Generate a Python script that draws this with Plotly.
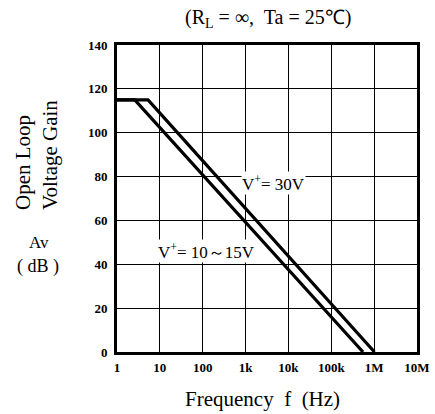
import plotly.graph_objects as go

# Data
freq_30v = [1, 5.3, 1.02e6]
gain_30v = [115, 115, 0]
freq_10_15v = [1, 2.6, 5.5e5]
gain_10_15v = [115, 115, 0]

x_tickvals = [1, 10, 100, 1e3, 1e4, 1e5, 1e6, 1e7]
x_ticktext = ["1", "10", "100", "1k", "10k", "100k", "1M", "10M"]
y_tickvals = [0, 20, 40, 60, 80, 100, 120, 140]

serif = "Liberation Serif, Times New Roman, serif"
W, H = 435, 414
L, R, T, B = 117, 18, 45, 62
PW, PH = W - L - R, H - T - B

fig = go.Figure()
fig.add_trace(go.Scatter(x=freq_30v, y=gain_30v, mode="lines",
                         line=dict(color="black", width=3.2), showlegend=False))
fig.add_trace(go.Scatter(x=freq_10_15v, y=gain_10_15v, mode="lines",
                         line=dict(color="black", width=3.2), showlegend=False))

fig.update_layout(
    width=W, height=H,
    margin=dict(l=L, r=R, t=T, b=B, autoexpand=False),
    paper_bgcolor="white", plot_bgcolor="white",
    font=dict(family=serif, color="black"),
    xaxis=dict(type="log", range=[0, 7], tickvals=x_tickvals, ticktext=x_ticktext,
               showgrid=True, gridcolor="black", gridwidth=1.4,
               showline=True, linecolor="black", linewidth=3, mirror=True,
               ticks="outside", ticklen=1, tickcolor="rgba(0,0,0,0)", zeroline=False,
               tickfont=dict(family=serif, size=13, color="black", weight="bold")),
    yaxis=dict(range=[0, 140], tickvals=y_tickvals,
               showgrid=True, gridcolor="black", gridwidth=1.4,
               showline=True, linecolor="black", linewidth=3, mirror=True,
               ticks="outside", ticklen=4, tickcolor="rgba(0,0,0,0)", zeroline=False,
               tickfont=dict(family=serif, size=13, color="black", weight="bold")),
)


def px2paper(px, py):
    return (px - L) / PW, (H - B - py) / PH


annots = [
    ("(R<sub>L</sub> = ∞,  Ta = 25℃)", 268, 19, 20),
    ("Frequency  f  (Hz)", 262, 399, 21),
    ("Av", 39, 242, 17),
    ("( dB )", 38, 266, 18),
]
for text, px, py, size in annots:
    x, y = px2paper(px, py)
    fig.add_annotation(text=text, xref="paper", yref="paper", x=x, y=y,
                       showarrow=False, xanchor="center", yanchor="middle",
                       font=dict(family=serif, size=size, color="black"))

x, y = px2paper(36, 155)
fig.add_annotation(text="Open Loop<br>Voltage Gain", xref="paper", yref="paper", x=x, y=y,
                   showarrow=False, textangle=-90, align="left",
                   xanchor="center", yanchor="middle",
                   font=dict(family=serif, size=21, color="black"))

# line labels
fig.add_annotation(text="V<sup>+</sup>= 30V", x=3.64, y=77, xref="x", yref="y",
                   showarrow=False, bgcolor="white", borderpad=0,
                   font=dict(family=serif, size=17, color="black"))
fig.add_annotation(text="V<sup>+</sup>= 10～15V", x=2.08, y=46, xref="x", yref="y",
                   showarrow=False, bgcolor="white", borderpad=0,
                   font=dict(family=serif, size=17, color="black"))

fig.write_html("out.html", config={"displayModeBar": False},
               post_script="document.body.style.margin='0';")
